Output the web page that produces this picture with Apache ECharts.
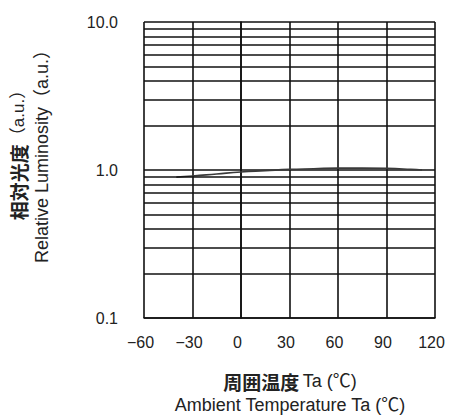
<!DOCTYPE html>
<html>
<head>
<meta charset="utf-8">
<script src="https://cdn.jsdelivr.net/npm/echarts@6/dist/echarts.min.js"></script>
<style>
html,body{margin:0;padding:0;background:#fff;}
#chart{width:452px;height:417px;}
</style>
</head>
<body>
<div id="chart"></div>
<script>
// ---- data ----
const temperatures = [-40, -30, -15, 0, 15, 30, 45, 60, 75, 90, 105, 112];
const luminosity   = [0.895, 0.91, 0.94, 0.97, 0.99, 1.01, 1.02, 1.03, 1.03, 1.025, 1.01, 1.0];
const xTickValues = [-60, -30, 0, 30, 60, 90, 120];
const yTickValues = [0.1, 1, 10];
const yMinorGrid = [0.2, 0.3, 0.4, 0.5, 0.6, 0.7, 0.8, 0.9, 2, 3, 4, 5, 6, 7, 8, 9];
const xTitleJaMain = '周囲温度';
const xTitleJaUnit = 'Ta (℃)';
const xTitleEn = 'Ambient Temperature Ta (℃)';
const yTitleJaMain = '相対光度';
const yTitleJaUnit = '（a.u.）';
const yTitleEn = 'Relative Luminosity（a.u.）';

const chart = echarts.init(document.getElementById('chart'), null, {renderer: 'svg'});
const lineColor = '#111';
const lw = 1.6;
const latin = '"Liberation Sans", Arial, "Noto Sans CJK JP", sans-serif';
const cjk = '"Noto Sans CJK JP", sans-serif';
const textColor = '#222';

const option = {
  backgroundColor: '#fff',
  animation: false,
  grid: {left: 144, top: 22, width: 291, height: 296, show: false},
  xAxis: {
    type: 'value',
    min: xTickValues[0],
    max: xTickValues[xTickValues.length - 1],
    interval: 30,
    axisLine: {show: true, lineStyle: {color: lineColor, width: lw}},
    axisTick: {show: false},
    splitLine: {show: true, lineStyle: {color: lineColor, width: lw}},
    axisLabel: {
      margin: 16, color: textColor, fontSize: 16, fontFamily: latin,
      padding: [0, 7, 0, 0],
      formatter: v => (v < 0 ? '\u2212' + Math.abs(v) : String(v))
    }
  },
  yAxis: {
    type: 'log',
    logBase: 10,
    min: yTickValues[0],
    max: yTickValues[yTickValues.length - 1],
    axisLine: {show: true, lineStyle: {color: lineColor, width: lw}},
    axisTick: {show: false},
    splitLine: {show: true, lineStyle: {color: lineColor, width: lw}},
    axisLabel: {
      margin: 26, color: textColor, fontSize: 16, fontFamily: latin,
      formatter: v => Number(v).toFixed(1)
    }
  },
  graphic: [
    {type: 'text', x: 290, y: 381, style: {
      text: '{c|' + xTitleJaMain + '} {l|' + xTitleJaUnit + '}',
      fill: textColor, textAlign: 'center', textVerticalAlign: 'middle',
      rich: {
        c: {fontFamily: cjk, fontSize: 19, fontWeight: 'bold', fill: textColor, lineHeight: 20},
        l: {fontFamily: latin, fontSize: 18, fill: textColor, lineHeight: 20}
      }
    }},
    {type: 'text', x: 290, y: 405, style: {text: xTitleEn, font: '18px ' + latin, fill: textColor, textAlign: 'center', textVerticalAlign: 'middle'}},
    {type: 'text', x: 18, y: 151, rotation: Math.PI / 2, style: {
      text: '{c|' + yTitleJaMain + '}{l|' + yTitleJaUnit + '}',
      fill: textColor, textAlign: 'center', textVerticalAlign: 'middle',
      rich: {
        c: {fontFamily: cjk, fontSize: 19, fontWeight: 'bold', fill: textColor},
        l: {fontFamily: latin, fontSize: 17, fill: textColor}
      }
    }},
    {type: 'text', x: 42, y: 152, rotation: Math.PI / 2, style: {text: yTitleEn, font: '18px ' + latin, fill: textColor, textAlign: 'center', textVerticalAlign: 'middle'}}
  ],
  series: [
    {
      type: 'line',
      data: [],
      z: 1,
      markLine: {
        silent: true,
        symbol: ['none', 'none'],
        label: {show: false},
        lineStyle: {color: lineColor, width: lw, type: 'solid'},
        data: yMinorGrid.map(v => ({yAxis: v}))
      }
    },
    {
      type: 'line',
      z: 3,
      smooth: true,
      symbol: 'none',
      lineStyle: {color: '#3a3a3a', width: 1.6},
      data: temperatures.map((t, i) => [t, luminosity[i]])
    }
  ]
};
chart.setOption(option);
</script>
</body>
</html>
